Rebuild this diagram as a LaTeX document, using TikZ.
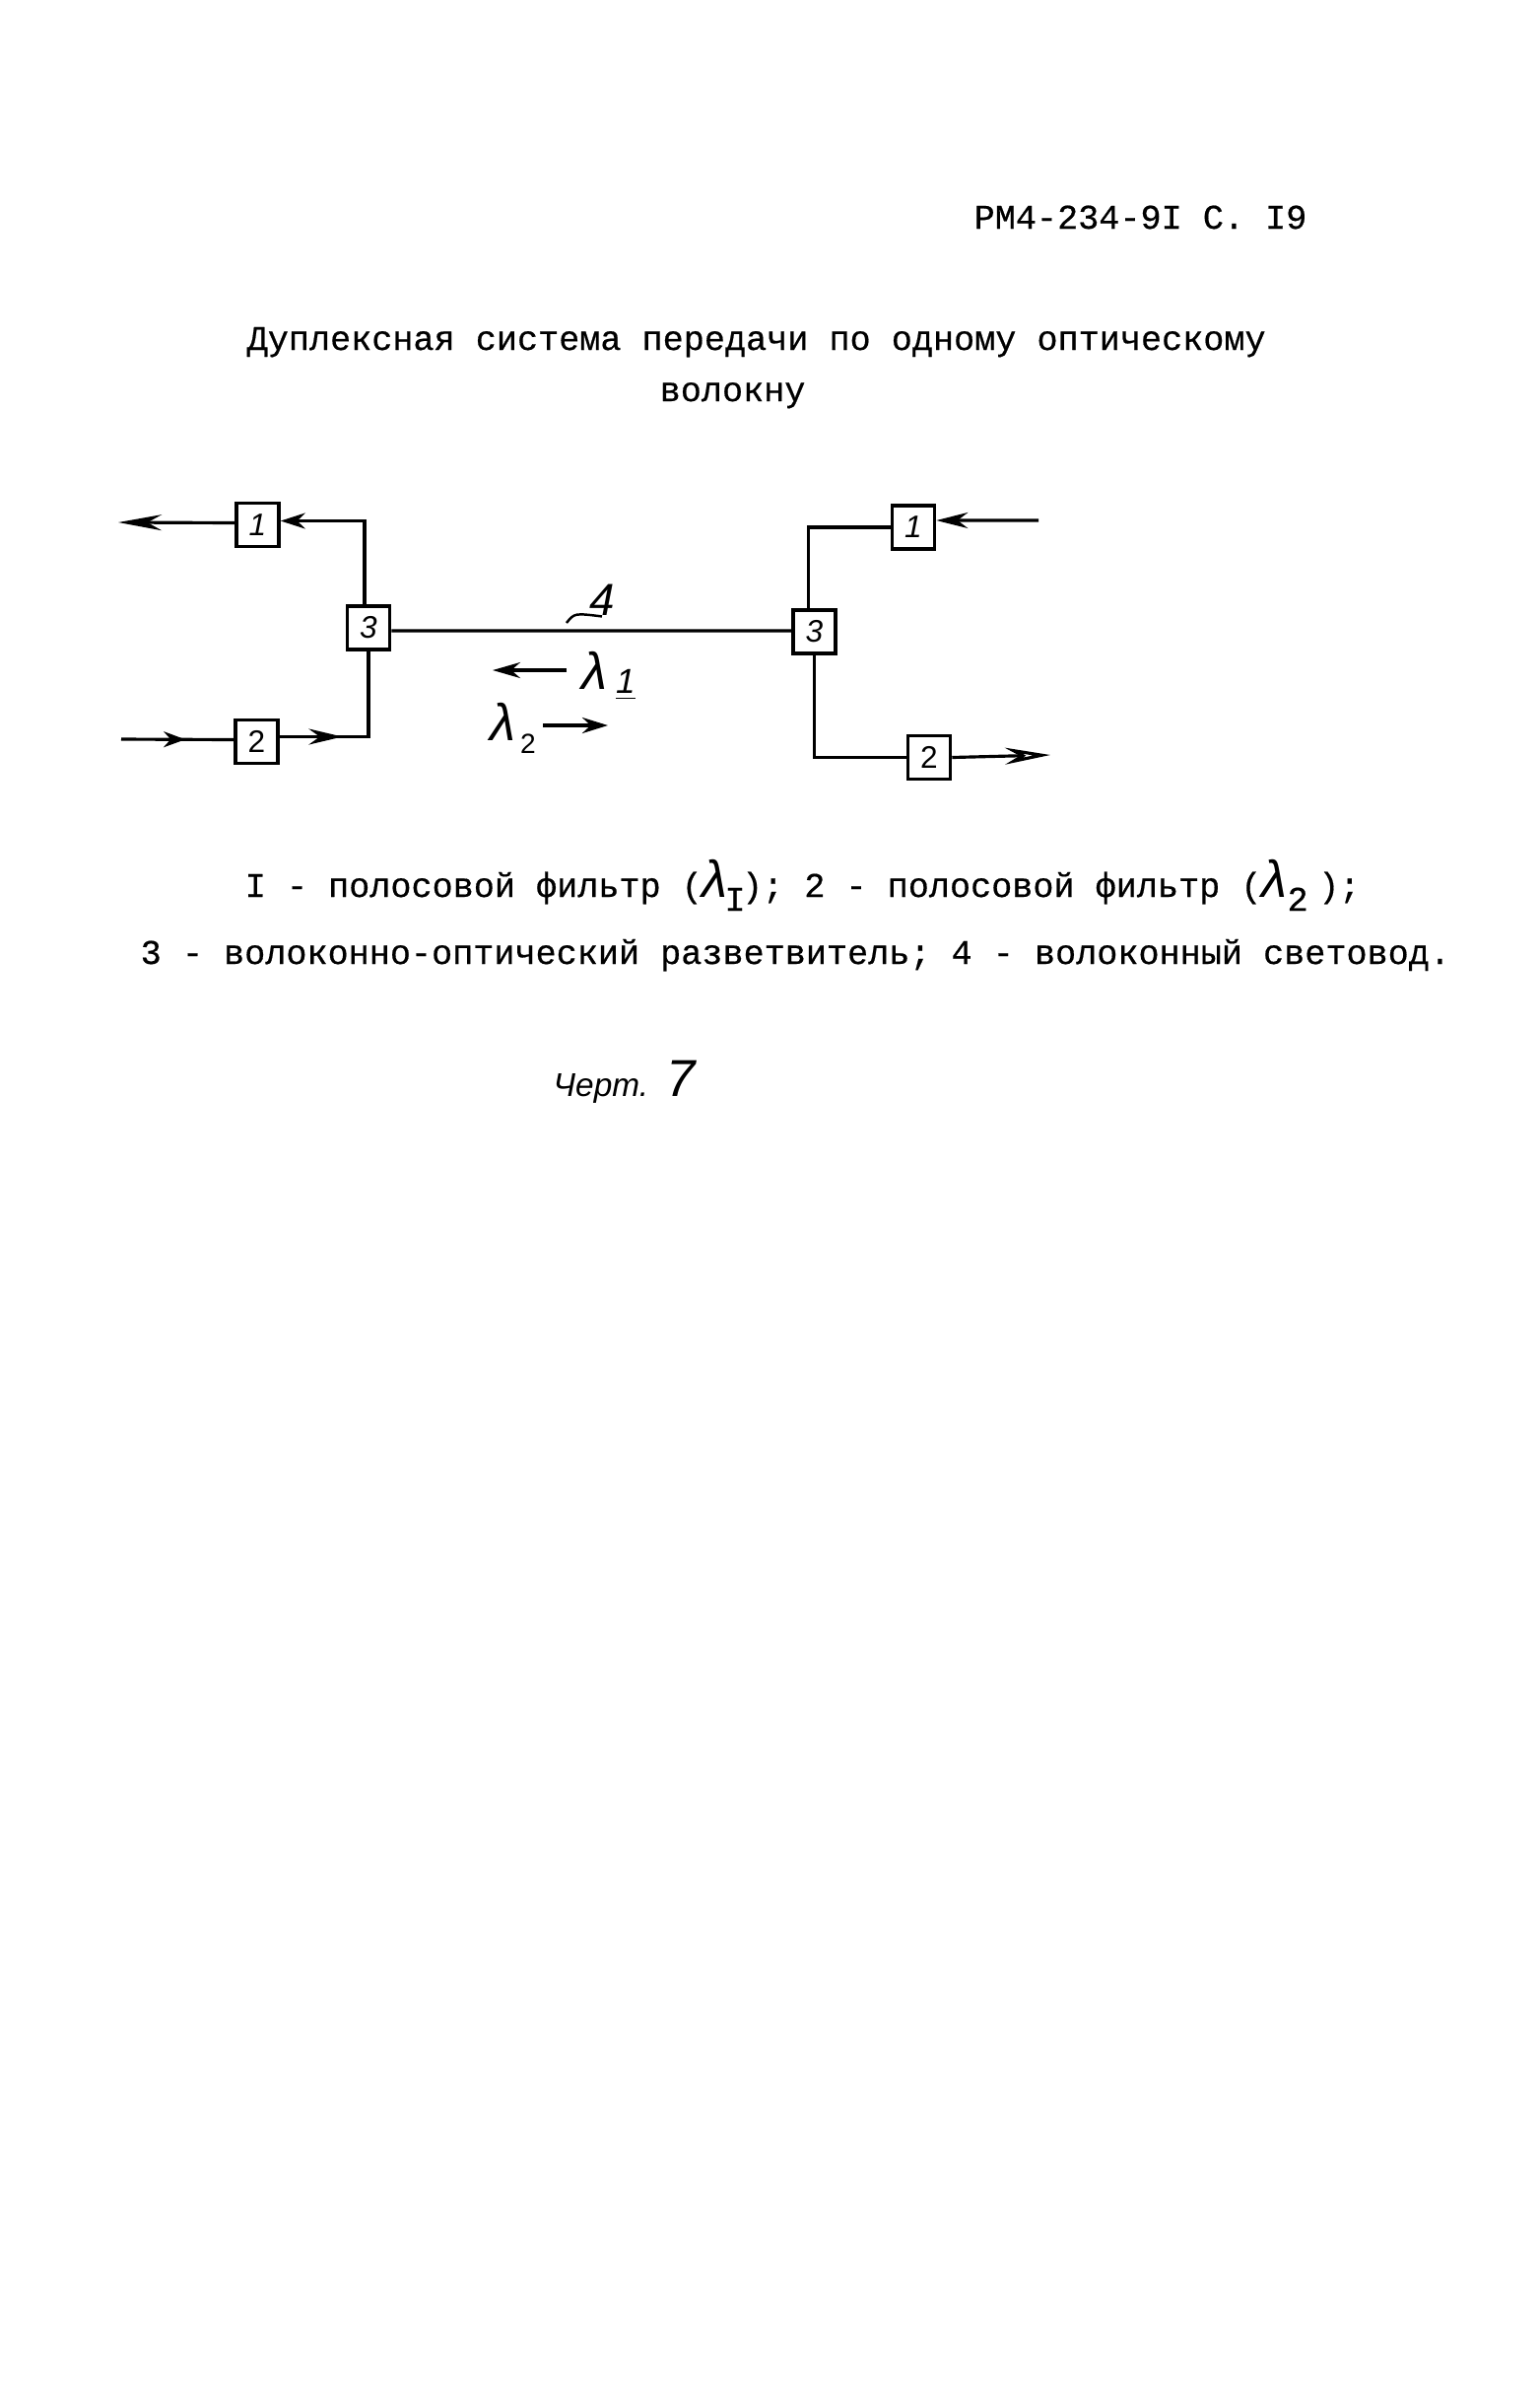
\documentclass[tikz,border=0pt]{standalone}
\usepackage{fontspec}
\setmainfont{Liberation Mono}[FakeBold=0.5]
\newfontfamily\handfont{Liberation Sans}
\usepackage{tikz}
\usetikzlibrary{
  arrows.meta, positioning, decorations.markings, calc
}
\newcommand{\lamsym}{{\handfont\itshape\fontsize{15}{15}\selectfont λ}}

\begin{document}
\begin{tikzpicture}[
  x=0.01cm, y=-0.01cm,
  blockbox/.style={draw=black, line width=1pt, fill=white, minimum width=0.43cm, minimum height=0.44cm,
                inner sep=0pt, font=\handfont\itshape\small},
  wire/.style={draw=black, line width=0.9pt},
  flow/.style={wire, -{Stealth[length=#1, width=0.16cm]}},
  midflow/.style 2 args={wire, postaction={decorate}, decoration={markings,
      mark=at position #1 with {\arrow{Stealth[length=#2, width=0.16cm]}}}},
  txt/.style={anchor=base west, inner sep=0pt},
  hand/.style={inner sep=0pt, font=\handfont\itshape}
]
\useasboundingbox (0,0) rectangle (1563,2429);

% page text
\node[txt] (head)   at (988,232)  {РМ4-234-9I С. I9};
\node[txt] (title)  at (250,355)  {Дуплексная система передачи по одному оптическому};
\node[txt] (title2) at (669,407)  {волокну};
\node[txt] (leg1)   at (248,910)
  {I - полосовой фильтр (\lamsym\kern-.1em\raisebox{-.4em}{I}\kern-.1em); 2 - полосовой фильтр (\lamsym\raisebox{-.4em}{2}\kern.3em);};
\node[txt] (leg2)   at (142,978)
  {3 - волоконно-оптический разветвитель; 4 - волоконный световод.};
\node[txt, font=\handfont\itshape\fontsize{9.5}{12}\selectfont] (fig) at (561,1112)
  {Черт.\ \ {\fontsize{15}{15}\selectfont 7}};

% blocks
\node[blockbox] (l1) at (261.5,532.5) {1};
\node[blockbox] (l2) at (260.5,752.5) {\upshape 2};
\node[blockbox] (l3) at (374,637)     {3};
\node[blockbox] (r1) at (927,535)     {1};
\node[blockbox] (r2) at (943,768.5)   {\upshape 2};
\node[blockbox] (r3) at (826.5,641)   {3};

% free ends
\coordinate (lout) at (120,530);
\coordinate (lin)  at (123,750);
\coordinate (rin)  at (1054,528);
\coordinate (rout) at (1066,766);

% left side
\draw[flow=0.44cm] ([yshift=.02cm]l1.west) -- (lout);
\draw[midflow={0.57}{0.22cm}] (lin) -- ([yshift=.02cm]l2.west);
\draw[flow=0.25cm] ([xshift=-.04cm]l3.north) |- ([yshift=.04cm]l1.east);
\draw[midflow={0.36}{0.34cm}] ([yshift=.05cm]l2.east) -| (l3.south);

% fibre
\draw[wire] ([yshift=-.03cm]l3.east) -- ([yshift=.01cm]r3.west);
\node[hand, font=\handfont\itshape\fontsize{13}{13}\selectfont] (num4) at (611,609) {4};
\coordinate (tail4) at (575,632);
\draw[wire, line width=0.7pt] (tail4) .. controls (583,622) .. (num4.south);

% right side
\draw[flow=0.32cm] (rin) -- ([yshift=.07cm]r1.east);
\draw[wire] (r1.west) -| ([xshift=-.06cm]r3.north);
\draw[wire] (r3.south) |- (r2.west);
\draw[wire, -{Stealth[length=0.46cm, width=0.17cm, open]}] (r2.east) -- (rout);

% wavelengths
\node[hand] (lam1) at (603,680) {\lamsym};
\node[hand] (idx1) at (635,695) {\underline{1}};
\node[hand] (lam2) at (510,732) {\lamsym};
\node[hand, font=\handfont\footnotesize] (idx2) at (536,755) {2};
\coordinate (lam1a) at (575,680);
\coordinate (lam1b) at (500,680);
\coordinate (lam2a) at (551,736);
\coordinate (lam2b) at (617,736);
\draw[flow=0.28cm] (lam1a) -- (lam1b);
\draw[flow=0.26cm] (lam2a) -- (lam2b);
\end{tikzpicture}
\end{document}
